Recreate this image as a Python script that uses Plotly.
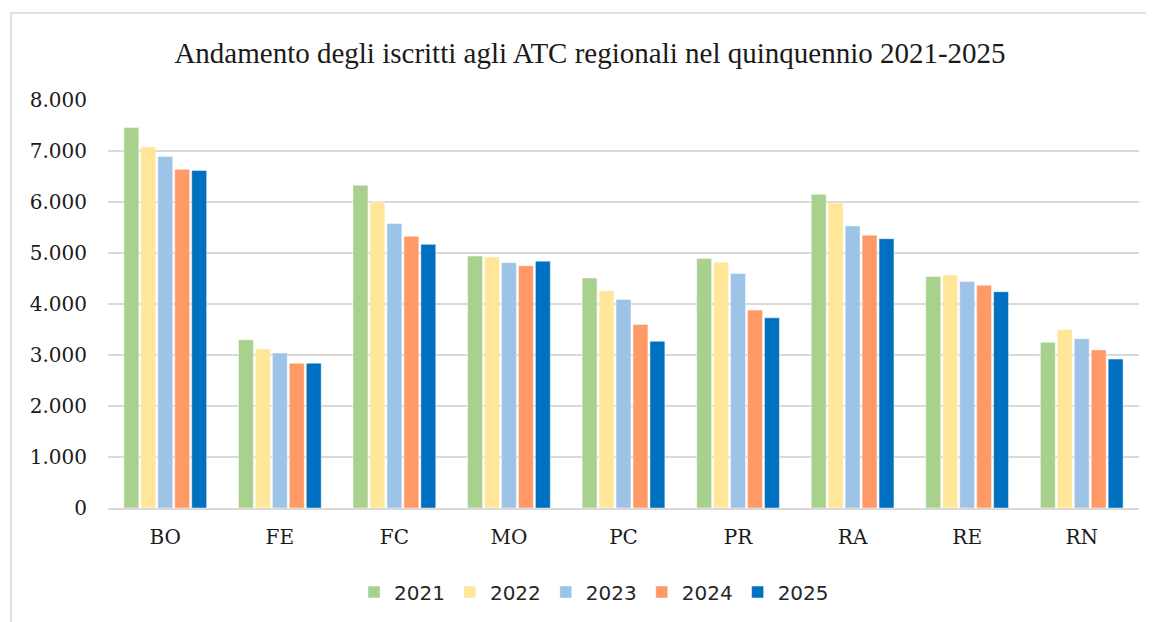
import plotly.graph_objects as go

categories = ["BO", "FE", "FC", "MO", "PC", "PR", "RA", "RE", "RN"]
years = ["2021", "2022", "2023", "2024", "2025"]
v2021 = [7460, 3300, 6330, 4940, 4510, 4890, 6150, 4540, 3250]
v2022 = [7080, 3120, 6000, 4920, 4260, 4820, 5980, 4570, 3500]
v2023 = [6890, 3040, 5580, 4810, 4090, 4600, 5530, 4440, 3320]
v2024 = [6640, 2840, 5330, 4750, 3600, 3880, 5350, 4370, 3100]
v2025 = [6620, 2840, 5170, 4840, 3270, 3730, 5280, 4240, 2920]
series = [v2021, v2022, v2023, v2024, v2025]
colors = ["#A9D18E", "#FFE699", "#9DC3E6", "#FF9966", "#0070C0"]
y_ticks = [0, 1000, 2000, 3000, 4000, 5000, 6000, 7000, 8000]

W, H = 1154, 622
OFF = 8  # page body margin
L, R, T, B = 108 - OFF, 15 + OFF, 100 - OFF, 114 + OFF

fig = go.Figure()
for name, vals, col in zip(years, series, colors):
    fig.add_trace(go.Bar(
        x=categories, y=vals, name=name,
        marker=dict(color=col, line=dict(color="rgba(255,255,255,0.6)", width=0.8)),
    ))

pw = W - L - R
ph = H - T - B
fx0, fy0 = 11 - OFF, 13 - OFF
fig.add_shape(type="rect", xref="paper", yref="paper",
              x0=(fx0 - L) / pw, x1=(W + 30 - L) / pw,
              y0=(H - B - (H + 30)) / ph, y1=(H - B - fy0) / ph,
              line=dict(color="#d9d9d9", width=1.5), fillcolor="rgba(0,0,0,0)", layer="below")

fig.update_layout(
    width=W, height=H,
    margin=dict(l=L, r=R, t=T, b=B),
    paper_bgcolor="white", plot_bgcolor="white",
    separators=",.",
    barmode="group", bargap=0.26, bargroupgap=0.12,
    title=dict(text="Andamento degli iscritti agli ATC regionali nel quinquennio 2021-2025",
               font=dict(family="Liberation Serif", size=29, color="#1a1a1a"),
               xref="container", x=(590 - OFF) / W, xanchor="center",
               yref="container", y=1 - (53 - OFF) / H, yanchor="middle"),
    legend=dict(orientation="h", xref="container", x=(594 - OFF) / W, xanchor="center",
                yref="container", y=1 - (592 - OFF) / H, yanchor="middle",
                font=dict(family="DejaVu Sans", size=20, color="#262626"),
                itemwidth=30, traceorder="normal"),
    showlegend=True,
)
fig.update_xaxes(showgrid=False, showline=True, linecolor="#d9d9d9", linewidth=1.5,
                 tickfont=dict(family="DejaVu Serif", size=20, color="#1a1a1a"),
                 ticks="", ticklabelstandoff=10)
fig.update_yaxes(range=[0, 8000], tickvals=y_ticks, tickformat=",d",
                 showgrid=True, gridcolor="#d9d9d9", gridwidth=1.5,
                 zeroline=False, showline=False,
                 tickfont=dict(family="DejaVu Serif", size=20, color="#1a1a1a"),
                 ticks="", ticklabelstandoff=20)

fig.write_html("out.html")
